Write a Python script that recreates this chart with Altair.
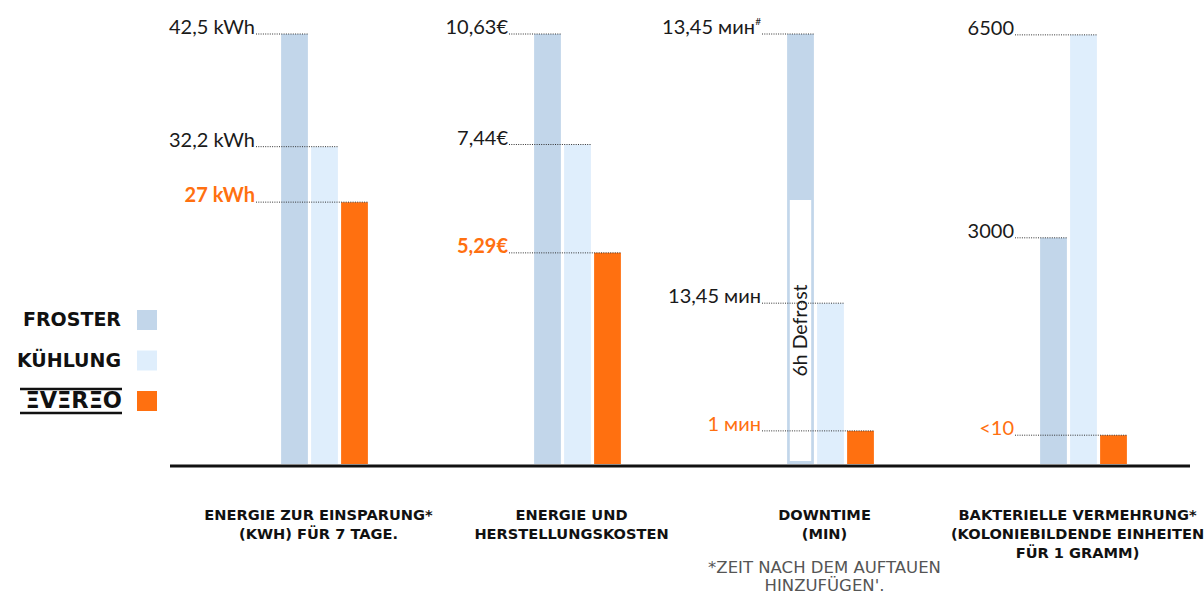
import altair as alt
import pandas as pd

# ---------------- data ----------------
series = ["Froster", "Kühlung", "Evereo"]
colors = ["#c2d6ea", "#dfeefc", "#ff7010"]
groups = [
    "ENERGIE ZUR EINSPARUNG*\n(KWH) FÜR 7 TAGE.",
    "ENERGIE UND\nHERSTELLUNGSKOSTEN",
    "DOWNTIME\n(MIN)",
    "BAKTERIELLE VERMEHRUNG*\n(KOLONIEBILDENDE EINHEITEN\nFÜR 1 GRAMM)",
]
# bar heights as drawn (tallest bar = 100)
froster_h = [100, 100, 100, 52.6]
kuehlung_h = [73.8, 74.3, 37.4, 99.8]
evereo_h = [60.9, 49.1, 7.7, 6.7]
froster_lbl = ["42,5 kWh", "10,63€", "13,45 мин", "3000"]
kuehlung_lbl = ["32,2 kWh", "7,44€", "13,45  мин", "6500"]
evereo_lbl = ["27 kWh", "5,29€", "1 мин", "<10"]
froster_sup = ["", "", "#", ""]
legend_lbl = ["FROSTER", "KÜHLUNG", ""]
defrost_lbl = ["6h Defrost"]
defrost_lo = [0.7]
defrost_hi = [61.4]
footnote = ["*ZEIT NACH DEM AUFTAUEN\nHINZUFÜGEN'."]
logo_text = "ΞVΞRΞO"

ORANGE = "#ff7010"
DARK = "#1a1a1a"

# ---------------- layout constants ----------------
W, H = 1204, 594
STEP = 253.0          # px per group
G0 = 324.5            # px centre of first group
PXU = 4.30            # px per height unit
BASE = 464            # px of zero line
x_dom = [(0 - G0) / STEP, (W - G0) / STEP]
y_dom = [-(H - BASE) / PXU, BASE / PXU]
OFF = 30 / STEP
HW = 13.4 / STEP
LEAD = (43.5 + 25) / STEP
INSET = 2.7 / STEP
TOFF = -6 / STEP

rows = []
heights = [froster_h, kuehlung_h, evereo_h]
labels = [froster_lbl, kuehlung_lbl, evereo_lbl]
for gi, g in enumerate(groups):
    for si, s in enumerate(series):
        rows.append(dict(group=g, gi=gi, series=s, si=si, h=heights[si][gi],
                         label=labels[si][gi],
                         sup=froster_sup[gi] if si == 0 else ""))
df = pd.DataFrame(rows)

xs = alt.Scale(domain=x_dom, nice=False, zero=False)
ys = alt.Scale(domain=y_dom, nice=False, zero=False)
cs = alt.Scale(domain=series, range=colors)

base = alt.Chart(df).transform_calculate(
    cx=f"datum.gi + (datum.si - 1) * {OFF}",
    lx=f"datum.gi - {LEAD}",
    z="0",
).transform_calculate(
    bx1=f"datum.cx - {HW}",
    bx2=f"datum.cx + {HW}",
)

bars = base.mark_rect().encode(
    x=alt.X("bx1:Q", scale=xs, axis=None),
    x2="bx2:Q",
    y=alt.Y("h:Q", scale=ys, axis=None),
    y2="z:Q",
    color=alt.Color("series:N", scale=cs, legend=None),
)

# defrost box inside the Froster downtime bar
ddf = pd.DataFrame(dict(gi=[2], si=[0], lo=defrost_lo, hi=defrost_hi, t=defrost_lbl))
dbase = alt.Chart(ddf).transform_calculate(
    cx=f"datum.gi + (datum.si - 1) * {OFF}",
    mid="(datum.lo + datum.hi) / 2",
).transform_calculate(
    bx1=f"datum.cx - {HW} + {INSET}",
    bx2=f"datum.cx + {HW} - {INSET}",
)
dbox = dbase.mark_rect(color="white").encode(
    x=alt.X("bx1:Q", scale=xs), x2="bx2:Q",
    y=alt.Y("lo:Q", scale=ys), y2="hi:Q",
)
dtext = dbase.mark_text(angle=270, fontSize=19.5, font="Lato", fontWeight="normal",
                        color=DARK, baseline="middle", align="center").encode(
    x=alt.X("cx:Q", scale=xs), y=alt.Y("mid:Q", scale=ys), text="t:N"
)

leaders = base.mark_rule(strokeDash=[1, 1.3], color="#333", strokeWidth=1).encode(
    x=alt.X("lx:Q", scale=xs), x2="bx2:Q", y=alt.Y("h:Q", scale=ys)
)

is_bold = "datum.series == 'Evereo' && datum.gi < 2"
lab_common = dict(align="right", baseline="alphabetic", font="Lato", fontSize=20)
lab_enc = dict(
    x=alt.X("lx:Q", scale=xs), y=alt.Y("h:Q", scale=ys), text="label:N",
    color=alt.condition("datum.series == 'Evereo'", alt.value(ORANGE), alt.value(DARK)),
)
lab_regular = base.transform_filter(f"!({is_bold}) && datum.sup == ''").mark_text(
    fontWeight="normal", dx=-1, **lab_common).encode(**lab_enc)
lab_bold = base.transform_filter(is_bold).mark_text(
    fontWeight="bold", dx=-1, **lab_common).encode(**lab_enc)
lab_sup_main = base.transform_filter("datum.sup != ''").mark_text(
    fontWeight="normal", dx=-7, **lab_common).encode(**lab_enc)
lab_sup = base.transform_filter("datum.sup != ''").mark_text(
    align="right", baseline="alphabetic", font="Lato", fontSize=10, dx=-1, dy=-9,
    color=DARK).encode(x=alt.X("lx:Q", scale=xs), y=alt.Y("h:Q", scale=ys), text="sup:N")

# category titles
gdf = pd.DataFrame(dict(group=groups, gi=list(range(len(groups)))))
titles = alt.Chart(gdf).transform_calculate(
    tx=f"datum.gi + {TOFF}"
).mark_text(
    align="center", baseline="alphabetic", font="DejaVu Sans", fontSize=14.6,
    fontWeight="bold", color="#111", lineBreak="\n", lineHeight=19,
).encode(x=alt.X("tx:Q", scale=xs), y=alt.value(519.5), text="group:N")

fdf = pd.DataFrame(dict(t=footnote, gi=[2]))
foot = alt.Chart(fdf).transform_calculate(
    tx=f"datum.gi + {TOFF}"
).mark_text(
    align="center", baseline="alphabetic", font="DejaVu Sans", fontSize=16.5,
    color="#555", lineBreak="\n", lineHeight=18,
).encode(x=alt.X("tx:Q", scale=xs), y=alt.value(572.5), text="t:N")

# legend (left side)
ldf = pd.DataFrame(dict(series=series, label=legend_lbl, i=list(range(len(series)))))
lbase = alt.Chart(ldf).transform_calculate(
    ly="320 + datum.i * 40.5"
).transform_calculate(
    ly1="datum.ly - 10", ly2="datum.ly + 10"
)
leg_sw = lbase.mark_rect().encode(
    x=alt.value(137), x2=alt.value(157),
    y=alt.Y("ly1:Q", scale=None), y2="ly2:Q",
    color=alt.Color("series:N", scale=cs, legend=None),
)
leg_txt = lbase.mark_text(
    align="right", baseline="middle", font="DejaVu Sans", fontSize=19,
    fontWeight="bold", color="#111",
).encode(x=alt.value(121), y=alt.Y("ly:Q", scale=None), text="label:N")

# zero line
one = pd.DataFrame(dict(a=[0]))
zero_line = alt.Chart(one).mark_rule(color="#111", strokeWidth=3).encode(
    x=alt.value(170), x2=alt.value(1190), y=alt.value(466)
)

# EVEREO logo (legend label for the third series)
logo = alt.Chart(one).mark_text(
    align="right", baseline="middle", font="DejaVu Sans", fontSize=22.5,
    fontWeight="bold", color="#111"
).encode(x=alt.value(122), y=alt.value(401), text=alt.value(logo_text))
logo_top = alt.Chart(one).mark_rule(color="#111", strokeWidth=2.5).encode(
    x=alt.value(20), x2=alt.value(122), y=alt.value(389))
logo_bot = alt.Chart(one).mark_rule(color="#111", strokeWidth=2.5).encode(
    x=alt.value(20), x2=alt.value(122), y=alt.value(413))

chart = alt.layer(
    bars, dbox, dtext, leaders, lab_regular, lab_bold, lab_sup_main, lab_sup,
    titles, foot, leg_sw, leg_txt, zero_line, logo, logo_top, logo_bot,
).properties(
    width=W, height=H, autosize=alt.AutoSizeParams(type="none"), padding=0,
).configure_view(stroke=None)

chart.save("out.html", embed_options={"renderer": "svg", "actions": False})
